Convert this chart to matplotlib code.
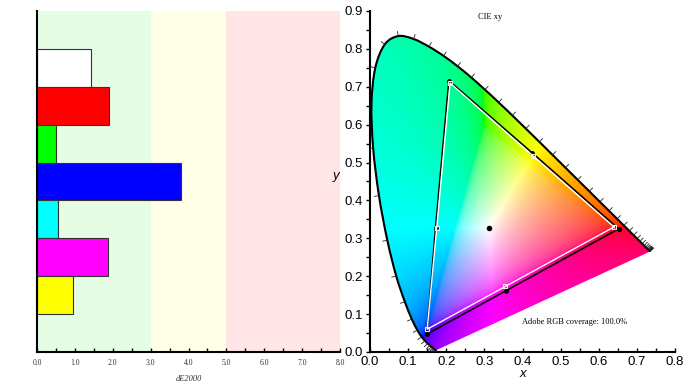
import numpy as np
import matplotlib
matplotlib.use("Agg")
from matplotlib import pyplot as plt
from matplotlib.path import Path
from matplotlib.patches import PathPatch

# left panel: dE2000 per patch (top to bottom)
patch_colors = ['#ffffff', '#ff0000', '#00ff00', '#0000ff', '#00ffff', '#ff00ff', '#ffff00']
de_values = [1.43, 1.89, 0.49, 3.80, 0.55, 1.87, 0.94]
de_ticks = [0.0, 1.0, 2.0, 3.0, 4.0, 5.0, 6.0, 7.0, 8.0]
zones = [(0, 3, '#e5fde5'), (3, 5, '#fffee6'), (5, 8, '#ffe5e5')]

# CIE 1931 spectral locus, 380-700 nm every 5 nm
locus_x = [0.1741, 0.1740, 0.1738, 0.1736, 0.1733, 0.1730, 0.1726, 0.1721, 0.1714, 0.1703,
           0.1689, 0.1669, 0.1644, 0.1611, 0.1566, 0.1510, 0.1440, 0.1355, 0.1241, 0.1096,
           0.0913, 0.0687, 0.0454, 0.0235, 0.0082, 0.0039, 0.0139, 0.0389, 0.0743, 0.1142,
           0.1547, 0.1929, 0.2296, 0.2658, 0.3016, 0.3373, 0.3731, 0.4087, 0.4441, 0.4788,
           0.5125, 0.5448, 0.5752, 0.6029, 0.6270, 0.6482, 0.6658, 0.6801, 0.6915, 0.7006,
           0.7079, 0.7140, 0.7190, 0.7230, 0.7260, 0.7283, 0.7300, 0.7311, 0.7320, 0.7327,
           0.7334, 0.7340, 0.7344, 0.7346, 0.7347]
locus_y = [0.0050, 0.0050, 0.0049, 0.0049, 0.0048, 0.0048, 0.0048, 0.0048, 0.0051, 0.0058,
           0.0069, 0.0086, 0.0109, 0.0138, 0.0177, 0.0227, 0.0297, 0.0399, 0.0578, 0.0868,
           0.1327, 0.2007, 0.2950, 0.4127, 0.5384, 0.6548, 0.7502, 0.8120, 0.8338, 0.8262,
           0.8059, 0.7816, 0.7543, 0.7243, 0.6923, 0.6589, 0.6245, 0.5896, 0.5547, 0.5202,
           0.4866, 0.4544, 0.4242, 0.3965, 0.3725, 0.3514, 0.3340, 0.3197, 0.3083, 0.2993,
           0.2920, 0.2859, 0.2809, 0.2770, 0.2740, 0.2717, 0.2700, 0.2689, 0.2680, 0.2673,
           0.2666, 0.2660, 0.2656, 0.2654, 0.2653]

# measured gamut: R, Y, G, C, B, M
meas_x = [0.652, 0.426, 0.207, 0.172, 0.149, 0.357]
meas_y = [0.325, 0.525, 0.716, 0.328, 0.047, 0.162]
# Adobe RGB target: R, Y, G, C, B, M
ref_x = [0.640, 0.427, 0.210, 0.175, 0.150, 0.355]
ref_y = [0.330, 0.518, 0.710, 0.328, 0.060, 0.173]
white_pt = (0.311, 0.328)


def smooth_path(xs, ys, close=False):
    # Catmull-Rom through the points, as cubic bezier segments
    p = np.column_stack([xs, ys])
    verts = [p[0]]
    codes = [Path.MOVETO]
    n = len(p)
    for i in range(n - 1):
        p0 = p[max(i - 1, 0)]
        p3 = p[min(i + 2, n - 1)]
        c1 = p[i] + (p[i + 1] - p0) / 6
        c2 = p[i + 1] - (p3 - p[i]) / 6
        verts += [c1, c2, p[i + 1]]
        codes += [Path.CURVE4] * 3
    if close:
        verts += [p[0], p[0]]
        codes += [Path.LINETO, Path.CLOSEPOLY]
    return Path(np.array(verts), codes)


fig = plt.figure(figsize=(6.93, 3.90), dpi=100)
serif = ['Liberation Serif', 'DejaVu Serif']
sans = ['Liberation Sans', 'DejaVu Sans']

# ---- left: dE bars
ax1 = fig.add_axes([37 / 693, 38 / 390, 303 / 693, 341 / 390])
for lo, hi, c in zones:
    ax1.axvspan(lo, hi, color=c, lw=0, zorder=0)
ypos = np.arange(len(de_values))[::-1] + 1.5
ax1.barh(ypos, de_values, height=1.0, color=patch_colors, edgecolor='#333333', lw=0.8, zorder=2)
ax1.set_xlim(0, 8)
ax1.set_ylim(0, 9)
ax1.set_yticks([])
ax1.set_xticks(de_ticks)
ax1.set_xticks(np.arange(0, 8.01, 0.5), minor=True)
ax1.set_xticklabels(['%.1f' % t for t in de_ticks], fontsize=5.5, family=serif, color='#333333')
ax1.tick_params(axis='x', which='both', direction='in', length=3, width=1, pad=5)
for s in ['top', 'right']:
    ax1.spines[s].set_visible(False)
ax1.spines['left'].set_linewidth(1.5)
ax1.spines['bottom'].set_linewidth(1.5)
ax1.set_xlabel('dE2000', fontsize=6, family=serif, style='italic', labelpad=6, color='#333333')

# ---- right: CIE xy diagram
ax2 = fig.add_axes([370 / 693, 38 / 390, 305 / 693, 341 / 390])
nx, ny = 400, 450
gx, gy = np.meshgrid(np.linspace(0.0005, 0.8, nx), np.linspace(0.0005, 0.9, ny))
X = gx / gy
Y = np.ones_like(gx)
Z = (1 - gx - gy) / gy
R = 3.2406 * X - 1.5372 * Y - 0.4986 * Z
G = -0.9689 * X + 1.8758 * Y + 0.0415 * Z
B = 0.0557 * X - 0.2040 * Y + 1.0570 * Z
rgb = np.dstack([R, G, B])
rgb = rgb - np.minimum(rgb.min(axis=2, keepdims=True), 0)
rgb = rgb / np.maximum(rgb.max(axis=2, keepdims=True), 1e-9)
rgb = np.clip(rgb, 0, 1) ** (1 / 2.5)
img = ax2.imshow(rgb, extent=[0, 0.8, 0, 0.9], origin='lower', aspect='auto', zorder=1,
                 interpolation='bilinear')
clip = PathPatch(smooth_path(locus_x, locus_y, close=True), transform=ax2.transData,
                 facecolor='none', edgecolor='none')
ax2.add_patch(clip)
img.set_clip_path(clip)
ax2.add_patch(PathPatch(smooth_path(locus_x, locus_y), facecolor='none', edgecolor='black',
                        lw=1.5, zorder=3))

# wavelength ticks along the locus
lx, ly = np.array(locus_x), np.array(locus_y)
for i in range(1, len(lx) - 1):
    tx, ty = lx[i + 1] - lx[i - 1], ly[i + 1] - ly[i - 1]
    n = np.hypot(tx, ty)
    if n < 1e-6:
        continue
    nxv, nyv = ty / n, -tx / n
    if (lx[i] - white_pt[0]) * nxv + (ly[i] - white_pt[1]) * nyv < 0:
        nxv, nyv = -nxv, -nyv
    ax2.plot([lx[i], lx[i] + 0.012 * nxv], [ly[i], ly[i] + 0.012 * nyv], color='#222222', lw=0.6, zorder=3)

ax2.plot(meas_x + meas_x[:1], meas_y + meas_y[:1], color='black', lw=1.2, marker='o', ms=2.5, zorder=4)
ax2.plot(ref_x + ref_x[:1], ref_y + ref_y[:1], color='white', lw=1.0, marker='s', ms=3.5,
         mfc='none', mec='#eeeeee', mew=0.8, zorder=5)
ax2.plot([white_pt[0]], [white_pt[1]], 'o', color='black', ms=3, zorder=6)

ax2.set_xlim(0, 0.8)
ax2.set_ylim(0, 0.9)
ax2.set_xticks(np.arange(0, 0.81, 0.1))
ax2.set_yticks(np.arange(0, 0.91, 0.1))
ax2.set_xticks(np.arange(0, 0.81, 0.05), minor=True)
ax2.set_yticks(np.arange(0, 0.91, 0.05), minor=True)
ax2.set_xticklabels(['%.1f' % t for t in np.arange(0, 0.81, 0.1)], fontsize=9.5, family=sans)
ax2.set_yticklabels(['%.1f' % t for t in np.arange(0, 0.91, 0.1)], fontsize=9.5, family=sans)
ax2.tick_params(axis='x', which='both', direction='in', length=3, width=1, pad=3)
ax2.tick_params(axis='y', which='both', direction='out', length=3, width=1, pad=2)
for s in ['top', 'right']:
    ax2.spines[s].set_visible(False)
ax2.spines['left'].set_linewidth(1.5)
ax2.spines['bottom'].set_linewidth(1.5)
ax2.set_xlabel('x', fontsize=9.5, family=sans, style='italic', labelpad=0)
ax2.set_ylabel('y', fontsize=9.5, family=sans, style='italic', rotation=0, labelpad=6)
ax2.text(0.315, 0.885, 'CIE xy', fontsize=6, family=serif, ha='center', va='center')
ax2.text(0.40, 0.079, 'Adobe RGB coverage: 100.0%', fontsize=6, family=serif, ha='left', va='center')

fig.savefig('out.png', dpi=100)
